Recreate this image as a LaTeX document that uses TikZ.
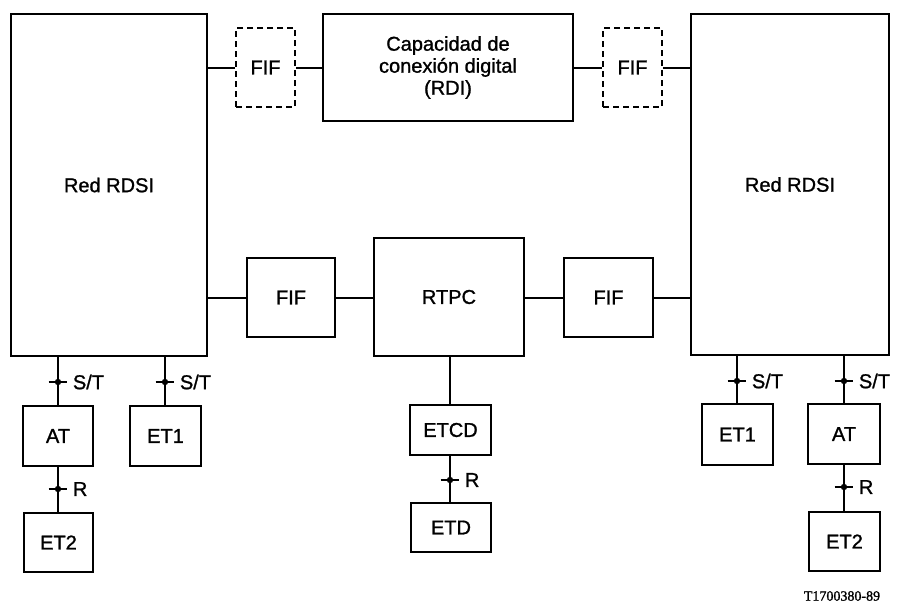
\documentclass[tikz,border=0pt]{standalone}
\usepackage{fontspec}
\setmainfont[FakeBold=1.2]{Liberation Sans}
\newfontfamily\codefont[FakeBold=1.5]{Liberation Serif}
\begin{document}
\begin{tikzpicture}[x=0.75pt,y=-0.75pt,
  box/.style={draw,line width=1.9pt,inner sep=0pt,font=\fontsize{15}{16.5}\selectfont,align=center},
  dbox/.style={box,dashed,dash pattern=on 4.5pt off 3pt},
  conn/.style={line width=1.5pt},
  lbl/.style={font=\fontsize{15}{16.5}\selectfont,anchor=west,inner sep=0pt}]
\useasboundingbox (0,0) rectangle (897,604);
% boxes
\node[box,minimum width=147pt,minimum height=256.5pt] (redL) at (109,185) {Red RDSI};
\node[dbox,minimum width=44.25pt,minimum height=59.25pt] (fifdL) at (265.5,67.5) {FIF};
\node[box,minimum width=187.5pt,minimum height=80.25pt] (cap) at (448,67.5) {Capacidad de\\conexión digital\\(RDI)};
\node[dbox,minimum width=44.25pt,minimum height=59.25pt] (fifdR) at (632.5,67.5) {FIF};
\node[box,minimum width=148.5pt,minimum height=255.75pt] (redR) at (790,184.5) {Red RDSI};
\node[box,minimum width=66pt,minimum height=59.25pt] (fifL) at (291,297.5) {FIF};
\node[box,minimum width=112.5pt,minimum height=88.5pt] (rtpc) at (449,297) {RTPC};
\node[box,minimum width=66.75pt,minimum height=59.25pt] (fifR) at (608.5,297.5) {FIF};
\node[box,minimum width=52.5pt,minimum height=45pt] (atL) at (58,436) {AT};
\node[box,minimum width=53.25pt,minimum height=45pt] (et1L) at (165.5,436) {ET1};
\node[box,minimum width=51.75pt,minimum height=44.25pt] (et2L) at (58.5,542.5) {ET2};
\node[box,minimum width=60.75pt,minimum height=37.5pt] (etcd) at (450.5,430) {ETCD};
\node[box,minimum width=60pt,minimum height=36.75pt] (etd) at (451,527.5) {ETD};
\node[box,minimum width=53.25pt,minimum height=45.75pt] (et1R) at (737.5,434.5) {ET1};
\node[box,minimum width=54pt,minimum height=45pt] (atR) at (844,434) {AT};
\node[box,minimum width=53.25pt,minimum height=44.25pt] (et2R) at (844.5,541.5) {ET2};
% horizontal connectors
\draw[conn] (redL.east |- fifdL.west) -- (fifdL.west);
\draw[conn] (fifdL.east) -- (cap.west |- fifdL.east);
\draw[conn] (cap.east |- fifdR.west) -- (fifdR.west);
\draw[conn] (fifdR.east) -- (redR.west |- fifdR.east);
\draw[conn] (redL.east |- fifL.west) -- (fifL.west);
\draw[conn] (fifL.east) -- (rtpc.west |- fifL.east);
\draw[conn] (rtpc.east |- fifR.west) -- (fifR.west);
\draw[conn] (fifR.east) -- (redR.west |- fifR.east);
% vertical connectors
\draw[conn] (atL.north |- redL.south) -- (atL.north);
\draw[conn] (redL.south -| 165,0) -- (et1L.north -| 165,0);
\draw[conn] (atL.south -| 58,0) -- (et2L.north -| 58,0);
\draw[conn] (rtpc.south -| 450,0) -- (etcd.north -| 450,0);
\draw[conn] (etcd.south -| 450,0) -- (etd.north -| 450,0);
\draw[conn] (redR.south -| 737,0) -- (et1R.north -| 737,0);
\draw[conn] (redR.south -| atR.north) -- (atR.north);
\draw[conn] (atR.south) -- (et2R.north -| atR.south);
% interface markers
\foreach \x/\y/\t [count=\i] in {58/382/S\slash T,165/382/S\slash T,58/489/R,450/480/R,737/381/S\slash T,844/381/S\slash T,844/487/R}{
  \coordinate (m\i) at (\x,\y);
  \draw[line width=1.8pt] ([xshift=-7pt]m\i) -- ([xshift=7pt]m\i);
  \fill (m\i) circle (2.4pt);
  \node[lbl] (t\i) at ([xshift=11pt]m\i) {\t};
}
\node[font=\codefont\fontsize{10.5}{12}\selectfont] (code) at (842,596) {T1700380-89};
\end{tikzpicture}
\end{document}
